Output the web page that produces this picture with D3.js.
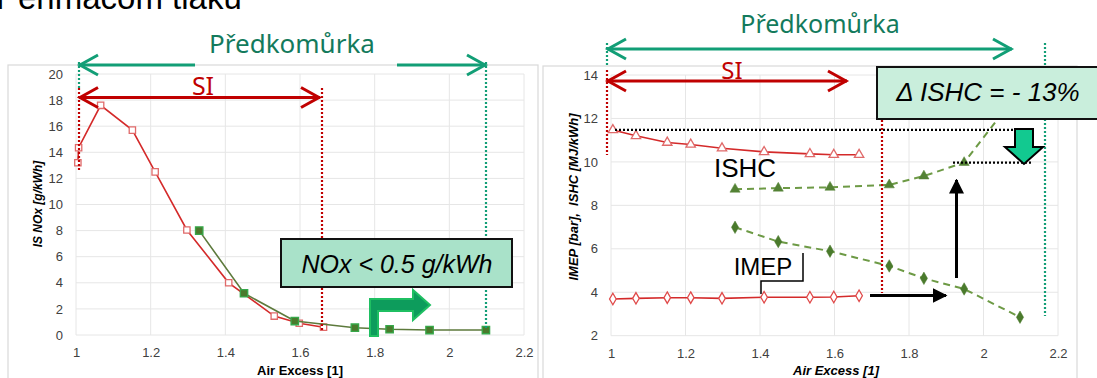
<!DOCTYPE html>
<html>
<head>
<meta charset="utf-8">
<title>NOx a ISHC – Předkomůrka vs SI</title>
<script src="https://d3js.org/d3.v7.min.js"></script>
<style>
  body { margin: 0; background: #fff; }
  svg { display: block; }
</style>
</head>
<body>
<div id="chart"></div>
<script>
// ---- data ----
const noxSiLambda = [1.005, 1.007, 1.066, 1.151, 1.212, 1.297, 1.409, 1.531, 1.598, 1.663];
const noxSi       = [13.2, 14.35, 17.6, 15.7, 12.5, 8.05, 4.0, 1.45, 0.9, 0.6];
const noxPcLambda = [1.330, 1.450, 1.586, 1.747, 1.840, 1.947, 2.098];
const noxPc       = [8.0, 3.2, 1.07, 0.56, 0.44, 0.38, 0.38];

const siLambda  = [1.005, 1.067, 1.151, 1.214, 1.298, 1.411, 1.534, 1.598, 1.666];
const ishcSi    = [11.47, 11.2, 10.89, 10.8, 10.63, 10.46, 10.37, 10.33, 10.33];
const imepSi    = [3.69, 3.72, 3.75, 3.75, 3.72, 3.77, 3.77, 3.78, 3.84];
const pcLambda  = [1.333, 1.449, 1.588, 1.747, 1.840, 1.948, 2.098];
const ishcPc    = [8.74, 8.79, 8.83, 8.94, 9.35, 9.97, 13.3];
const imepPc    = [6.99, 6.33, 5.89, 5.21, 4.64, 4.15, 2.85];

const xTicks      = [1, 1.2, 1.4, 1.6, 1.8, 2, 2.2];
const noxTicks    = [0, 2, 4, 6, 8, 10, 12, 14, 16, 18, 20];
const rightTicks  = [2, 4, 6, 8, 10, 12, 14];

const W = 1097, H = 378;
const RED = "#c00000", GREEN = "#129e76", GREENTXT = "#137a5c";
const sans = "Liberation Sans, Arial, sans-serif";
const humanist = "Noto Sans, Open Sans, sans-serif";

const svg = d3.select("#chart").append("svg")
  .attr("width", W).attr("height", H);

const defs = svg.append("defs");
defs.append("marker").attr("id", "blackHead")
  .attr("viewBox", "0 0 10 10").attr("refX", 9).attr("refY", 5)
  .attr("markerWidth", 5).attr("markerHeight", 5).attr("orient", "auto")
  .attr("markerUnits", "strokeWidth")
  .append("path").attr("d", "M0,0 L10,5 L0,10 z").attr("fill", "#000");

// slide title, cut at the top like in the slide
svg.append("text").attr("x", -4).attr("y", 9)
  .attr("font-family", sans).attr("font-size", 33).attr("fill", "#000")
  .text("Perimacom tlaku");

// ---- helpers ----
function frame(x0, x1, y0) {
  svg.append("rect").attr("x", x0).attr("y", y0).attr("width", x1 - x0).attr("height", H - y0 + 10)
    .attr("fill", "#fff").attr("stroke", "#d9d9d9").attr("stroke-width", 1.2);
}

function grid(g, x, y, yTicks) {
  g.append("g").selectAll("line").data(xTicks).join("line")
    .attr("x1", d => x(d)).attr("x2", d => x(d))
    .attr("y1", y.range()[0]).attr("y2", y.range()[1])
    .attr("stroke", "#e6e6e6").attr("stroke-width", 1);
  g.append("g").selectAll("line").data(yTicks).join("line")
    .attr("x1", x.range()[0]).attr("x2", x.range()[1])
    .attr("y1", d => y(d)).attr("y2", d => y(d))
    .attr("stroke", "#e6e6e6").attr("stroke-width", 1);

  const ax = g.append("g").attr("transform", `translate(0,${y.range()[0] + 4})`)
    .call(d3.axisBottom(x).tickValues(xTicks).tickSize(0).tickPadding(9).tickFormat(d3.format("~g")));
  const ay = g.append("g").attr("transform", `translate(${x.range()[0] - 9},0)`)
    .call(d3.axisLeft(y).tickValues(yTicks).tickSize(0).tickPadding(4));
  [ax, ay].forEach(a => {
    a.select(".domain").remove();
    a.selectAll("text").attr("font-family", sans).attr("font-size", 13).attr("fill", "#404040");
  });
}

function series(g, x, y, xs, ys, opt) {
  const pts = xs.map((v, i) => [v, ys[i]]);
  g.append("path").datum(pts)
    .attr("d", d3.line().x(d => x(d[0])).y(d => y(d[1])))
    .attr("fill", "none").attr("stroke", opt.line).attr("stroke-width", opt.width || 1.6)
    .attr("stroke-dasharray", opt.dash || null);
  g.append("g").selectAll("path").data(pts).join("path")
    .attr("transform", d => `translate(${x(d[0])},${y(d[1])})`)
    .attr("d", d3.symbol().type(opt.symbol).size(opt.size || 40))
    .attr("fill", opt.fill).attr("stroke", opt.stroke).attr("stroke-width", opt.sw || 1.3);
}

function vDots(x, y1, y2, color) {
  svg.append("line").attr("x1", x).attr("x2", x).attr("y1", y1).attr("y2", y2)
    .attr("stroke", color).attr("stroke-width", 2.2).attr("stroke-dasharray", "2,2");
}

function hArrow(x1, x2, y, color, heads) {
  svg.append("line").attr("x1", x1).attr("x2", x2).attr("y1", y).attr("y2", y)
    .attr("stroke", color).attr("stroke-width", 3);
  heads.forEach(h => {
    const tip = h === "left" ? x1 : x2;
    const s = h === "left" ? 1 : -1;
    svg.append("path")
      .attr("d", `M${tip + s * 19},${y - 10} L${tip + 1 * s},${y} L${tip + s * 19},${y + 10}`)
      .attr("fill", "none").attr("stroke", color).attr("stroke-width", 3);
  });
}

function label(x, y, txt, size, color, opts = {}) {
  return svg.append("text").attr("x", x).attr("y", y)
    .attr("text-anchor", opts.anchor || "middle")
    .attr("font-family", opts.family || sans).attr("font-size", size)
    .attr("font-style", opts.italic ? "italic" : null)
    .attr("font-weight", opts.bold ? "bold" : null)
    .attr("fill", color).text(txt);
}

// ================= LEFT CHART: NOx =================
frame(8, 538, 65);
const xL = d3.scaleLinear().domain([1, 2.2]).range([76, 524]);
const yL = d3.scaleLinear().domain([0, 20]).range([335, 74]);
const gL = svg.append("g");
grid(gL, xL, yL, noxTicks);

svg.append("text")
  .attr("transform", "translate(42,204) rotate(-90)")
  .attr("text-anchor", "middle").attr("font-family", sans).attr("font-size", 12)
  .attr("font-weight", "bold").attr("font-style", "italic").attr("fill", "#000")
  .text("IS NOx [g/kWh]");
label(300, 375, "Air Excess [1]", 13, "#000", { bold: true });

series(gL, xL, yL, noxSiLambda, noxSi,
  { line: "#d42a2a", symbol: d3.symbolSquare, size: 40, fill: "#fff", stroke: "#e06a6a" });
series(gL, xL, yL, noxPcLambda, noxPc,
  { line: "#5d7a3c", symbol: d3.symbolSquare, size: 55, fill: "#4a7a2c", stroke: "#36a84a" });

// annotations left
vDots(79, 62, 90, GREEN);
vDots(79, 88, 172, RED);
vDots(322, 88, 330, RED);
vDots(486, 62, 330, GREEN);
hArrow(79, 195, 65, GREEN, ["left"]);
hArrow(397, 486, 65, GREEN, ["right"]);
hArrow(79, 320, 97.5, RED, ["left", "right"]);
label(292, 53, "Předkomůrka", 26, GREENTXT, { family: humanist });
label(203, 95, "SI", 25, RED, { family: humanist });

svg.append("rect").attr("x", 281).attr("y", 239).attr("width", 231).attr("height", 48)
  .attr("fill", "#a9e2c9").attr("stroke", "#111").attr("stroke-width", 2);
label(397, 273, "NOx < 0.5 g/kWh", 25, "#000", { italic: true });

// bent green arrow
svg.append("path")
  .attr("d", "M370,336 L370,299 L413,299 L413,290 L430,305 L413,320 L413,311 L378,311 L378,336 Z")
  .attr("fill", "#0d9c5c").attr("stroke", "#1fbf62").attr("stroke-width", 2);

// ================= RIGHT CHART: IMEP / ISHC =================
frame(543, 1077, 66);
const xR = d3.scaleLinear().domain([1, 2.2]).range([611, 1058]);
const yR = d3.scaleLinear().domain([2, 14]).range([335.7, 75]);
const gR = svg.append("g");
grid(gR, xR, yR, rightTicks);

svg.append("text")
  .attr("transform", "translate(578,197) rotate(-90)")
  .attr("text-anchor", "middle").attr("font-family", sans).attr("font-size", 13)
  .attr("font-weight", "bold").attr("font-style", "italic").attr("fill", "#000")
  .attr("xml:space", "preserve")
  .text("IMEP [bar],  ISHC [MJ/kWh]");
label(836, 375, "Air Excess [1]", 13, "#000", { bold: true, italic: true });

series(gR, xR, yR, siLambda, ishcSi,
  { line: "#d42a2a", symbol: d3.symbolTriangle, size: 38, fill: "#fff", stroke: "#e06a6a" });
series(gR, xR, yR, siLambda, imepSi,
  { line: "#d42a2a", symbol: d3.symbolDiamond, size: 38, fill: "#fff", stroke: "#e04a4a" });
series(gR, xR, yR, pcLambda, ishcPc,
  { line: "#6d9a45", width: 2, dash: "7,5", symbol: d3.symbolTriangle, size: 45, fill: "#548235", stroke: "#548235", sw: 0.5 });
series(gR, xR, yR, pcLambda, imepPc,
  { line: "#6d9a45", width: 2, dash: "7,5", symbol: d3.symbolDiamond, size: 45, fill: "#4a7a2c", stroke: "#4a7a2c", sw: 0.5 });

// annotations right
vDots(607, 43, 67, GREEN);
vDots(607, 70, 155, RED);
vDots(882, 84, 293, RED);
vDots(1045, 43, 316, GREEN);
hArrow(607, 1012, 49, GREEN, ["left", "right"]);
hArrow(607, 847, 81, RED, ["left", "right"]);
label(820, 33, "Předkomůrka", 25, GREENTXT, { family: humanist });
label(732, 79, "SI", 24, RED, { family: humanist });

svg.append("line").attr("x1", 615).attr("x2", 1031).attr("y1", yR(ishcSi[0])).attr("y2", yR(ishcSi[0]))
  .attr("stroke", "#000").attr("stroke-width", 2.2).attr("stroke-dasharray", "2,2");
svg.append("line").attr("x1", 953).attr("x2", 1033).attr("y1", yR(ishcPc[5])).attr("y2", yR(ishcPc[5]))
  .attr("stroke", "#000").attr("stroke-width", 2.2).attr("stroke-dasharray", "2,2");

svg.append("rect").attr("x", 877).attr("y", 67).attr("width", 230).attr("height", 52)
  .attr("fill", "#c9eedc").attr("stroke", "#111").attr("stroke-width", 2);
label(988, 101, "\u0394 ISHC = - 13%", 26, "#000", { italic: true });

// teal down arrow
svg.append("path")
  .attr("d", "M1015,129 L1033,129 L1033,147 L1043,147 L1024,164 L1005,147 L1015,147 Z")
  .attr("fill", "#12c990").attr("stroke", "#000").attr("stroke-width", 2);

// black arrows
svg.append("line").attr("x1", 956.5).attr("x2", 956.5).attr("y1", 278).attr("y2", 180)
  .attr("stroke", "#000").attr("stroke-width", 3).attr("marker-end", "url(#blackHead)");
svg.append("line").attr("x1", 870).attr("x2", 946).attr("y1", 295.5).attr("y2", 295.5)
  .attr("stroke", "#000").attr("stroke-width", 3).attr("marker-end", "url(#blackHead)");

label(745, 176.5, "ISHC", 26, "#000");
label(763, 275, "IMEP", 24, "#000");
svg.append("path").attr("d", "M803,253 L803,281 L761,281 L761,294")
  .attr("fill", "none").attr("stroke", "#000").attr("stroke-width", 1.5);
</script>
</body>
</html>
